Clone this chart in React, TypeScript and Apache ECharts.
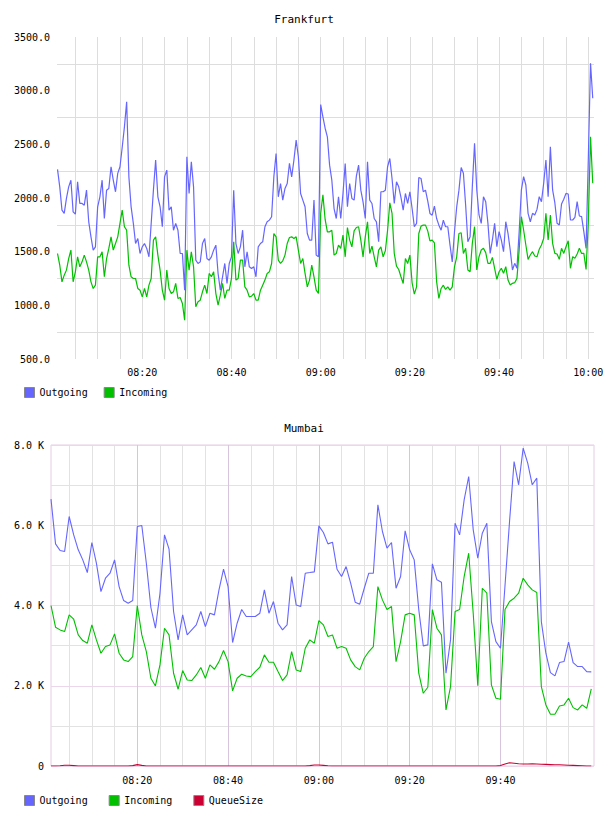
import React, { useEffect, useRef } from "react";
import * as echarts from "echarts";

// Frankfurt: samples every 30 s starting 08:01:00 (minutes after 08:00)
const frankfurtStartMinute = 1;
const frankfurtStepMinutes = 0.5;
const frankfurtOutgoing = [
  2266, 2104, 1887, 1856, 1996, 2104, 2166, 1871, 1850, 2151,
  1949, 1949, 1933, 2073, 1778, 1638, 1514, 1545, 1918, 2011,
  2166, 1809, 2073, 2089, 2291, 2166, 2058, 2229, 2291, 2471,
  2663, 2896, 2197, 1918, 1763, 1576, 1623, 1483, 1545, 1576,
  1530, 1452, 1763, 2073, 2353, 2011, 1918, 1732, 2197, 2260,
  1887, 1918, 1700, 1763, 1700, 1483, 1483, 1141, 2384, 2042,
  2337, 2104, 1421, 1390, 1405, 1576, 1623, 1436, 1421, 1452,
  1514, 1561, 1297, 1141, 1266, 1390, 1204, 1390, 1452, 2073,
  1576, 1483, 1545, 1700, 1359, 1499, 1359, 1343, 1359, 1266,
  1545, 1576, 1592, 1732, 1778, 1794, 1825, 2197, 2415, 2011,
  2135, 1980, 2089, 2135, 2322, 2197, 2353, 2539, 2384, 2042,
  1980, 1918, 1669, 1607, 1607, 1980, 1468, 1452, 2870, 2756,
  2650, 2570, 2306, 2166, 1902, 1809, 2011, 1809, 2042, 2322,
  1918, 2135, 1996, 1980, 2204, 2306, 2073, 1964, 1809, 2337,
  1980, 1949, 1809, 1778, 1592, 2058, 2058, 2073, 2291, 2368,
  2182, 1949, 2151, 2104, 2005, 1887, 2042, 1949, 2058, 1902,
  1732, 1763, 2191, 2182, 2058, 2073, 1974, 1856, 1840, 1924,
  1809, 1747, 1700, 1794, 1732, 1732, 1561, 1405, 1685, 1918,
  2073, 2284, 2230, 1935, 1593, 1640, 2106, 2509, 2075, 1842,
  1764, 2012, 1966, 1764, 1484, 1609, 1764, 1546, 1686, 1609,
  1500, 1779, 1671, 1515, 1329, 1391, 1345, 1686, 2075, 2199,
  2121, 1857, 1779, 1857, 1842, 1894, 2012, 1966, 2137, 2354,
  2012, 2478, 2075, 1956, 1764, 1748, 1944, 1988, 2043, 2037,
  1795, 1795, 1820, 1966, 1832, 1826, 1686, 1531, 2354, 3255,
  2929,
];
const frankfurtIncoming = [
  1483, 1374, 1219, 1281, 1328, 1436, 1514, 1219, 1312, 1452,
  1359, 1405, 1468, 1405, 1328, 1219, 1157, 1188, 1452, 1452,
  1499, 1266, 1436, 1530, 1638, 1514, 1576, 1638, 1763, 1887,
  1732, 1700, 1374, 1266, 1250, 1250, 1157, 1141, 1079, 1157,
  1079, 1188, 1250, 1607, 1638, 1468, 1328, 1141, 1048, 1328,
  1157, 1110, 1126, 1204, 1064, 1073, 1017, 862, 1514, 1328,
  1499, 1359, 986, 1033, 1048, 1126, 1188, 1110, 1297, 1266,
  1312, 1110, 1002, 1095, 1204, 1064, 1141, 1141, 1250, 1592,
  1235, 1250, 1421, 1421, 1172, 1141, 1079, 1085, 1110, 1048,
  1048, 1141, 1188, 1235, 1297, 1312, 1390, 1669, 1638, 1421,
  1390, 1415, 1468, 1576, 1632, 1638, 1623, 1638, 1514, 1390,
  1436, 1297, 1172, 1235, 1374, 1266, 1141, 1110, 1856, 2030,
  1800, 1685, 1685, 1700, 1468, 1483, 1561, 1530, 1654, 1452,
  1725, 1607, 1545, 1694, 1725, 1732, 1607, 1452, 1638, 1778,
  1483, 1551, 1452, 1359, 1514, 1545, 1452, 1508, 1700, 1955,
  1856, 1483, 1365, 1334, 1266, 1204, 1436, 1390, 1468, 1210,
  1104, 1172, 1669, 1738, 1747, 1747, 1694, 1601, 1607, 1582,
  1219, 1064, 1157, 1188, 1148, 1172, 1141, 1172, 1359, 1452,
  1669, 1676, 1484, 1531, 1329, 1313, 1577, 1733, 1329, 1453,
  1515, 1531, 1491, 1391, 1391, 1447, 1345, 1242, 1313, 1345,
  1298, 1360, 1236, 1189, 1205, 1211, 1251, 1515, 1826, 1702,
  1562, 1428, 1469, 1500, 1460, 1453, 1522, 1562, 1624, 1857,
  1609, 1842, 1577, 1484, 1478, 1428, 1531, 1484, 1546, 1602,
  1345, 1453, 1438, 1478, 1531, 1484, 1484, 1335, 1764, 2571,
  2137,
];

// Mumbai: samples every minute starting 08:01
const mumbaiStartMinute = 1;
const mumbaiStepMinutes = 1;
const mumbaiOutgoing = [
  6650, 5536, 5370, 5345, 6218, 5760, 5387, 5137, 4821, 5570,
  5054, 4347, 4680, 4805, 5137, 4472, 4123, 4056, 4123, 5968,
  5993, 5054, 3950, 3434, 4300, 5760, 5403, 3850, 3143, 3766,
  3267, 3392, 3517, 3850, 3475, 3808, 3766, 4389, 4904, 4472,
  3076, 3558, 3900, 3725, 3725, 3725, 3808, 4389, 3808, 4098,
  3558, 3392, 3517, 4722, 4015, 3973, 4805, 4821, 4838, 5985,
  5819, 5536, 5578, 4904, 4722, 4971, 4556, 4082, 4032, 4430,
  4805, 4805, 6509, 5844, 5428, 5570, 4430, 4722, 5860, 5387,
  5137, 3900, 2993, 3018, 5037, 4639, 4580, 2312, 3143, 6052,
  5760, 6633, 7215, 5885, 5179, 5802, 6052, 3600, 3101, 2935,
  4500, 6100, 7589, 7008, 7922, 7548, 7008, 7174, 3600, 2810,
  2328, 2245, 2578, 2603, 3085, 2578, 2478, 2478, 2353, 2345,
];
const mumbaiIncoming = [
  4000, 3459, 3392, 3350, 3766, 3658, 3267, 3126, 3060, 3517,
  3143, 2810, 2977, 3018, 3292, 2810, 2644, 2602, 2727, 4000,
  3267, 2852, 2187, 1996, 2519, 3434, 3267, 2312, 1913, 2378,
  2145, 2129, 2270, 2453, 2187, 2519, 2411, 2602, 2877, 2602,
  1871, 2187, 2287, 2245, 2228, 2353, 2461, 2769, 2586, 2586,
  2353, 2129, 2270, 2852, 2395, 2353, 2935, 3143, 3060, 3625,
  3517, 3226, 3267, 2935, 2977, 2935, 2644, 2478, 2395, 2686,
  2852, 2977, 4472, 4140, 3900, 3973, 2602, 3101, 3766, 3808,
  3766, 2312, 1813, 1962, 3900, 3434, 3267, 1397, 1979, 3850,
  3900, 4722, 5303, 3800, 2000, 4430, 4306, 2020, 1688, 1663,
  3900, 4098, 4181, 4306, 4680, 4514, 4389, 4323, 1979, 1522,
  1289, 1289, 1497, 1522, 1688, 1455, 1397, 1522, 1439, 1921,
];
const mumbaiQueueSize = [
  0, 0, 5, 20, 20, 10, 0, 0, 0, 0,
  0, 0, 0, 0, 0, 0, 0, 0, 10, 35,
  15, 0, 0, 0, 0, 0, 0, 0, 0, 0,
  0, 0, 0, 0, 0, 0, 0, 0, 0, 0,
  0, 0, 0, 0, 0, 0, 0, 0, 0, 0,
  0, 0, 0, 0, 0, 0, 0, 10, 25, 25,
  15, 5, 0, 0, 0, 0, 0, 0, 0, 0,
  0, 0, 0, 0, 0, 0, 0, 0, 0, 0,
  0, 0, 0, 0, 0, 0, 0, 0, 0, 0,
  0, 0, 0, 0, 0, 0, 0, 0, 0, 10,
  50, 80, 70, 55, 50, 50, 55, 50, 45, 40,
  35, 30, 30, 25, 20, 15, 10, 5, 0, 0,
];

const frankfurtYLabelValues = [500, 1000, 1500, 2000, 2500, 3000, 3500];
const frankfurtYGridValues = [750, 1250, 1750, 2250, 2750, 3250];
const frankfurtTimeLabelMinutes = [20, 40, 60, 80, 100, 120];
const mumbaiTimeLabelMinutes = [20, 40, 60, 80, 100];

const FONT = "DejaVu Sans Mono";

function toPairs(values: number[], start: number, step: number) {
  return values.map((v, i) => [start + i * step, v]);
}

function timeLabel(v: number) {
  const total = Math.round(v);
  const h = 8 + Math.floor(total / 60);
  const m = total % 60;
  return String(h).padStart(2, "0") + ":" + String(m).padStart(2, "0");
}

function everyFive(from: number, to: number, skipTwenty: boolean) {
  const out: number[] = [];
  for (let m = from; m <= to; m += 5) {
    if (skipTwenty && m % 20 === 0) continue;
    out.push(m);
  }
  return out;
}

export default function App() {
  const ref = useRef<HTMLDivElement>(null);
  useEffect(() => {
    if (!ref.current) return;
    const chart = echarts.init(ref.current, undefined, { renderer: "svg" });
    const labelStyle = { fontFamily: FONT, fontSize: 10, color: "#000" };
    const titleStyle = { fontFamily: FONT, fontSize: 11, fontWeight: "normal" as const, color: "#000" };
    const lineCommon = (width: number) => ({
      type: "line" as const,
      showSymbol: false,
      symbol: "none",
      lineStyle: { width },
      emphasis: { disabled: true },
    });
    const option: any = {
      animation: false,
      color: ["#6666ff", "#00c000", "#cc0033"],
      title: [
        { text: "Frankfurt", left: "center", top: 14, padding: 0, textStyle: titleStyle },
        { text: "Mumbai", left: "center", top: 423, padding: 0, textStyle: titleStyle },
      ],
      legend: [
        {
          data: ["Outgoing", "Incoming"],
          left: 24, top: 387, padding: 0, itemWidth: 10, itemHeight: 10, itemGap: 16,
          icon: "rect", selectedMode: false,
          itemStyle: { borderColor: "#888", borderWidth: 1 },
          textStyle: labelStyle,
        },
        {
          data: ["Outgoing", "Incoming", "QueueSize"],
          left: 24, top: 795, padding: 0, itemWidth: 10, itemHeight: 10, itemGap: 21,
          icon: "rect", selectedMode: false,
          itemStyle: { borderColor: "#888", borderWidth: 1 },
          textStyle: labelStyle,
        },
      ],
      grid: [
        { left: 57, top: 37, width: 537, height: 322 },
        { left: 51, top: 445, width: 543, height: 321, show: true, borderColor: "#e6cce6", borderWidth: 1, backgroundColor: "transparent" },
      ],
      xAxis: [
        {
          gridIndex: 0, type: "value", min: 0.883, max: 121.28,
          axisLine: { show: false },
          axisTick: { show: false, customValues: everyFive(5, 120, false) },
          splitLine: { show: true, lineStyle: { color: "#dddddd", width: 1 } },
          axisLabel: { customValues: frankfurtTimeLabelMinutes, formatter: timeLabel, margin: 8, ...labelStyle },
        },
        {
          gridIndex: 1, type: "value", min: 1, max: 120.6, z: 1,
          axisLine: { show: false },
          axisTick: { show: false, customValues: mumbaiTimeLabelMinutes },
          splitLine: { show: true, lineStyle: { color: "#d8c4dc", width: 1 } },
          axisLabel: { customValues: mumbaiTimeLabelMinutes, formatter: timeLabel, margin: 9, ...labelStyle },
        },
        {
          gridIndex: 1, type: "value", min: 1, max: 120.6, z: 0, position: "bottom",
          axisLine: { show: false },
          axisTick: { show: false, customValues: everyFive(5, 115, true) },
          splitLine: { show: true, lineStyle: { color: "#e2e2e2", width: 1 } },
          axisLabel: { show: false },
        },
      ],
      yAxis: [
        {
          gridIndex: 0, type: "value", min: 500, max: 3500,
          axisLine: { show: false },
          axisTick: { show: false, customValues: frankfurtYGridValues },
          splitLine: { show: true, lineStyle: { color: "#dddddd", width: 1 } },
          axisLabel: { customValues: frankfurtYLabelValues, formatter: (v: number) => v.toFixed(1), margin: 7, ...labelStyle },
        },
        {
          gridIndex: 1, type: "value", min: 0, max: 8000, interval: 2000, z: 1,
          axisLine: { show: false }, axisTick: { show: false },
          splitLine: { show: true, lineStyle: { color: "#ecd6ec", width: 1 } },
          axisLabel: {
            formatter: (v: number) => (v === 0 ? "0" : (v / 1000).toFixed(1) + " K"),
            margin: 7, ...labelStyle,
          },
        },
        {
          gridIndex: 1, type: "value", min: 0, max: 8000, interval: 1000, z: 0, position: "left",
          axisLine: { show: false }, axisTick: { show: false },
          splitLine: { show: true, lineStyle: { color: "#e2e2e2", width: 1 } },
          axisLabel: { show: false },
        },
      ],
      series: [
        { ...lineCommon(1.2), name: "Outgoing", xAxisIndex: 0, yAxisIndex: 0, data: toPairs(frankfurtOutgoing, frankfurtStartMinute, frankfurtStepMinutes) },
        { ...lineCommon(1.2), name: "Incoming", xAxisIndex: 0, yAxisIndex: 0, data: toPairs(frankfurtIncoming, frankfurtStartMinute, frankfurtStepMinutes) },
        { ...lineCommon(1.1), name: "Outgoing", xAxisIndex: 1, yAxisIndex: 1, data: toPairs(mumbaiOutgoing, mumbaiStartMinute, mumbaiStepMinutes) },
        { ...lineCommon(1.1), name: "Incoming", xAxisIndex: 1, yAxisIndex: 1, data: toPairs(mumbaiIncoming, mumbaiStartMinute, mumbaiStepMinutes) },
        { ...lineCommon(1.1), name: "QueueSize", xAxisIndex: 1, yAxisIndex: 1, data: toPairs(mumbaiQueueSize, mumbaiStartMinute, mumbaiStepMinutes) },
      ],
    };
    chart.setOption(option);
    return () => chart.dispose();
  }, []);
  return (
    <div
      ref={ref}
      style={{ position: "absolute", left: 0, top: 0, width: 608, height: 816, background: "#fff" }}
    />
  );
}
